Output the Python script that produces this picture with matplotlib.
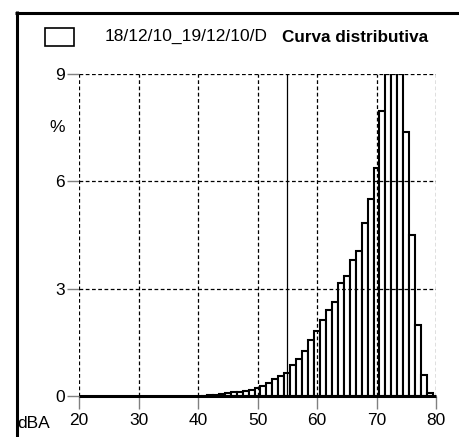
import matplotlib
matplotlib.use("Agg")
import matplotlib.pyplot as plt
from matplotlib.lines import Line2D
from matplotlib.patches import Rectangle

plt.rcParams['font.family'] = ['Liberation Sans', 'DejaVu Sans']

# Data (dBA level -> percentage of time)
levels = [41, 42, 43, 44, 45, 46, 47, 48, 49, 50,
          51, 52, 53, 54, 55, 56, 57, 58, 59, 60,
          61, 62, 63, 64, 65, 66, 67, 68, 69, 70,
          71, 72, 73, 74, 75, 76, 77, 78, 79]
percent = [0.01, 0.02, 0.04, 0.06, 0.09, 0.10, 0.12, 0.15, 0.18, 0.23,
           0.29, 0.35, 0.48, 0.56, 0.63, 0.87, 1.04, 1.26, 1.57, 1.82,
           2.12, 2.40, 2.62, 3.15, 3.35, 3.81, 4.05, 4.83, 5.50, 6.36,
           7.96, 9.70, 10.10, 9.65, 7.38, 4.49, 1.98, 0.59, 0.09]
x_ticks = [20, 30, 40, 50, 60, 70, 80]
y_ticks = [0, 3, 6, 9]
marker_level = 55
legend_label = "18/12/10_19/12/10/D"
title = "Curva distributiva"

W, H = 459, 437
fig = plt.figure(figsize=(W / 100, H / 100), dpi=100)

def fx(px):
    return px / W

def fy(py):
    return 1 - py / H

ax = fig.add_axes([fx(79), fy(396), (436 - 79) / W, (396 - 74) / H])
ax.set_xlim(20, 80)
ax.set_ylim(0, 9)
for s in ax.spines.values():
    s.set_visible(False)

ax.bar(levels, percent, width=1.0, align='center', facecolor='white',
       edgecolor='black', linewidth=1.5, zorder=2)

dash = (0, (3, 2))
for xv in x_ticks:
    ax.axvline(xv, color='black', lw=0.9, ls=dash, zorder=3)
for yv in y_ticks[1:]:
    ax.axhline(yv, color='black', lw=0.9, ls=dash, zorder=3)
ax.axvline(marker_level, color='black', lw=0.9, zorder=3)
ax.plot([20, 80], [0, 0], color='black', lw=2.2, zorder=4, clip_on=False,
        solid_capstyle='butt')

ax.set_xticks(x_ticks)
ax.set_yticks(y_ticks)
ax.tick_params(axis='both', length=9, width=1, color='#808080',
               labelsize=12.5, labelcolor='black')
ax.tick_params(axis='x', pad=3)
ax.tick_params(axis='y', pad=1)

fig.text(fx(57), fy(128), "%", fontsize=12.5, ha='center', va='center')
fig.text(fx(17), fy(424), "dBA", fontsize=12.5, ha='left', va='center')

# Header
fig.add_artist(Rectangle((fx(45), fy(45.5)), (74 - 45) / W, (45.5 - 27.5) / H,
                         transform=fig.transFigure, facecolor='white',
                         edgecolor='black', lw=1.2))
fig.text(fx(105), fy(36), legend_label, fontsize=12.5, ha='left', va='center')
fig.text(fx(282), fy(37), title, fontsize=12.3, fontweight='bold',
         ha='left', va='center')

# Outer frame (left and top edges)
fig.add_artist(Line2D([fx(16.5), fx(16.5)], [fy(11), 0], transform=fig.transFigure,
                      color='black', lw=2.2, solid_capstyle='butt'))
fig.add_artist(Line2D([fx(15), 1], [fy(12.5), fy(12.5)], transform=fig.transFigure,
                      color='black', lw=2.2, solid_capstyle='butt'))

fig.savefig("out.png", dpi=100)
